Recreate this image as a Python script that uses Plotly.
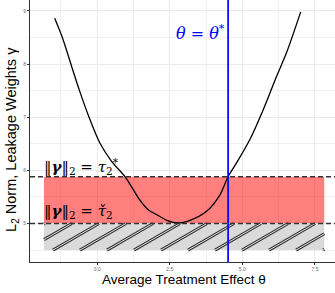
import plotly.graph_objects as go

# ---- data ----
theta_curve = [-1.46, -1.19, -0.88, -0.60, -0.27, 0.09, 0.50, 0.99, 1.46, 1.76, 2.04, 2.40,
               2.79, 3.20, 3.77, 4.23, 4.51, 4.80, 5.26, 5.72, 6.18, 6.52, 7.01]
gamma_curve = [8.86, 8.49, 7.96, 7.49, 6.99, 6.52, 6.17, 5.86, 5.45, 5.26, 5.17, 5.06,
               5.01, 5.06, 5.23, 5.54, 5.88, 6.14, 6.58, 7.14, 7.77, 8.21, 8.98]
theta_star = 4.51
tau_star = 5.88
tau_check = 5.0
band_x = [-1.83, 7.82]
hatch_bottom = 4.5

x_tickvals = [0, 2.5, 5.0, 7.5]
x_ticktext = ["0.0", "2.5", "5.0", "7.5"]
y_tickvals = [5, 6, 7, 8, 9]
y_ticktext = ["5", "6", "7", "8", "9"]

x_range = [-2.31, 8.19]
y_range = [4.276, 9.204]

fig = go.Figure()

# red band between the two norms
fig.add_shape(type="rect", xref="x", yref="y", x0=band_x[0], x1=band_x[1],
              y0=tau_check, y1=tau_star, fillcolor="rgba(255,0,0,0.5)",
              line=dict(width=0), layer="between")
# gray hatched band
fig.add_shape(type="rect", xref="x", yref="y", x0=band_x[0], x1=band_x[1],
              y0=hatch_bottom, y1=tau_check, fillcolor="#dadada",
              line=dict(width=0), layer="between")

# hatch stripes computed from band bounds
slope = 0.316
step = 0.93
phase = -1.52
run = (tau_check - hatch_bottom) / slope
hx, hy = [], []
k0 = int((band_x[0] - run - phase) // step) - 1
k1 = int((band_x[1] - phase) // step) + 1
for k in range(k0, k1 + 1):
    x0 = phase + k * step
    xs, xe = x0, x0 + run
    ys, ye = hatch_bottom, tau_check
    if xs < band_x[0]:
        xs = band_x[0]
        ys = hatch_bottom + slope * (xs - x0)
    if xe > band_x[1]:
        xe = band_x[1]
        ye = hatch_bottom + slope * (xe - x0)
    if xs >= xe:
        continue
    hx += [xs, xe, None]
    hy += [ys, ye, None]
fig.add_trace(go.Scatter(x=hx, y=hy, mode="lines", line=dict(color="#333333", width=3),
                         hoverinfo="skip", showlegend=False))
fig.add_trace(go.Scatter(x=hx, y=hy, mode="lines", line=dict(color="#e2e2e2", width=1),
                         hoverinfo="skip", showlegend=False))

# curve
fig.add_trace(go.Scatter(x=theta_curve, y=gamma_curve, mode="lines",
                         line=dict(color="black", width=1.3, shape="spline", smoothing=0.8),
                         showlegend=False))

# dashed horizontal lines
for yv in [tau_star, tau_check]:
    fig.add_shape(type="line", xref="paper", yref="y", x0=0, x1=1, y0=yv, y1=yv,
                  line=dict(color="#333333", width=1.5, dash="5px,3px"), layer="above")
# vertical blue line
fig.add_shape(type="line", xref="x", yref="paper", x0=theta_star, x1=theta_star, y0=0, y1=1,
              line=dict(color="#0000ff", width=1.7), layer="above")

math_font = "DejaVu Serif"
norm = "‖"
fig.add_annotation(x=theta_star, y=8.6, xref="x", yref="y", xanchor="right", yanchor="middle",
                   xshift=-1, showarrow=False,
                   text="<i>θ</i> = <i>θ</i><sup>*</sup>",
                   font=dict(family=math_font, size=16, color="#0000ff"))
fig.add_annotation(x=band_x[0], y=6.08, xref="x", yref="y", xanchor="left", yanchor="middle",
                   xshift=-2, showarrow=False,
                   text=norm + "<b><i>γ</i></b>" + norm + "<sub>2</sub> = <i>τ</i><sub>2</sub><sup>*</sup>",
                   font=dict(family=math_font, size=15, color="black"))
fig.add_annotation(x=band_x[0], y=5.22, xref="x", yref="y", xanchor="left", yanchor="middle",
                   xshift=-2, showarrow=False,
                   text=norm + "<b><i>γ</i></b>" + norm + "<sub>2</sub> = <i>τ̌</i><sub>2</sub>",
                   font=dict(family=math_font, size=15, color="black"))

# axis titles
fig.add_annotation(x=-0.059, y=0.466, xref="paper", yref="paper", textangle=-90,
                   showarrow=False, xanchor="center", yanchor="middle",
                   text="L<sub>2</sub> Norm, Leakage Weights γ",
                   font=dict(family="Liberation Sans", size=14.5, color="black"))
fig.add_annotation(x=0.505, y=-0.065, xref="paper", yref="paper",
                   showarrow=False, xanchor="center", yanchor="middle",
                   text="Average Treatment Effect θ",
                   font=dict(family="Liberation Sans", size=13.5, color="black"))

fig.update_xaxes(range=x_range, tickvals=x_tickvals, ticktext=x_ticktext,
                 showgrid=True, gridcolor="#ebebeb", gridwidth=1,
                 minor=dict(dtick=1.25, tick0=0, showgrid=True, gridcolor="#f0f0f0", gridwidth=0.8),
                 showline=True, linecolor="#333333", linewidth=1,
                 ticks="outside", ticklen=2, tickcolor="#333333",
                 tickfont=dict(family="Liberation Sans", size=5, color="#666666"),
                 zeroline=False, fixedrange=True, automargin=False)
fig.update_yaxes(range=y_range, tickvals=y_tickvals, ticktext=y_ticktext,
                 showgrid=True, gridcolor="#ebebeb", gridwidth=1,
                 minor=dict(dtick=0.5, tick0=0, showgrid=True, gridcolor="#f0f0f0", gridwidth=0.8),
                 showline=True, linecolor="#333333", linewidth=1,
                 ticks="outside", ticklen=2, tickcolor="#333333",
                 tickfont=dict(family="Liberation Sans", size=5, color="#666666"),
                 zeroline=False, fixedrange=True, automargin=False)

fig.update_layout(width=335, height=293, margin=dict(l=30, r=0, t=0, b=31),
                  plot_bgcolor="white", paper_bgcolor="white", showlegend=False)

fig.write_html("out.html", config={"displayModeBar": False},
               post_script="document.body.style.margin='0px';document.body.style.padding='0px';")
